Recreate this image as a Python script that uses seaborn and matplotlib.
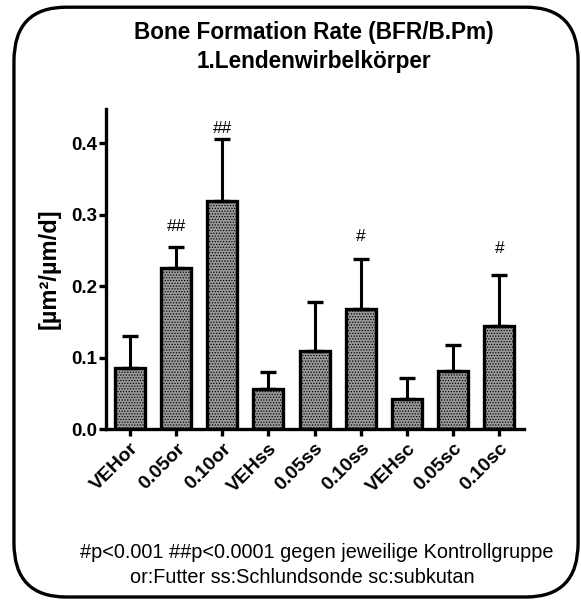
import pandas as pd
import numpy as np
import seaborn as sns
import matplotlib.pyplot as plt
from matplotlib.patches import FancyBboxPatch

groups = ["VEHor", "0.05or", "0.10or", "VEHss", "0.05ss", "0.10ss", "VEHsc", "0.05sc", "0.10sc"]
means = [0.085, 0.226, 0.319, 0.056, 0.109, 0.168, 0.042, 0.081, 0.144]
sd = [0.045, 0.029, 0.087, 0.024, 0.069, 0.070, 0.029, 0.036, 0.072]
marks = ["", "##", "##", "", "", "#", "", "", "#"]
mark_y = [0, 0.284, 0.421, 0, 0, 0.270, 0, 0, 0.253]

df = pd.DataFrame({"group": groups, "value": means})

sns.set_style("ticks", {"text.color": "black", "axes.labelcolor": "black",
                        "axes.edgecolor": "black", "xtick.color": "black",
                        "ytick.color": "black"})
plt.rcParams["font.family"] = ["Liberation Sans", "DejaVu Sans"]
plt.rcParams["hatch.color"] = "#555555"
plt.rcParams["hatch.linewidth"] = 0.6

fig = plt.figure(figsize=(5.81, 6), dpi=100)
ax = fig.add_axes([0.1824, 0.285, 0.7195, 0.5333])

sns.barplot(data=df, x="group", y="value", color="#9a9a9a", saturation=1,
            width=0.65, errorbar=None, ax=ax, edgecolor="black", linewidth=2.4)
for p in ax.patches:
    p.set_hatch("......")

x = np.arange(len(groups))
ax.errorbar(x, means, yerr=[np.zeros(len(sd)), sd], fmt="none", ecolor="black",
            elinewidth=2.2, capsize=6, capthick=2.4, zorder=1)
for i, m in enumerate(marks):
    if m:
        ax.text(i, mark_y[i], m, ha="center", va="center", fontsize=12.5, color="black")

ax.set_xlim(-0.52, 8.535)
ax.set_ylim(0, 0.448)
ax.set_yticks([0.0, 0.1, 0.2, 0.3, 0.4])
ax.set_yticklabels(["0.0", "0.1", "0.2", "0.3", "0.4"], fontweight="bold", fontsize=13.5)
ax.set_xticks(x)
ax.set_xticklabels(groups, rotation=45, ha="right", rotation_mode="anchor",
                   fontweight="bold", fontsize=14)
ax.set_xlabel("")
ax.set_ylabel("[µm²/µm/d]", fontweight="bold", fontsize=17)
ax.yaxis.set_label_coords(-0.108, 0.5)
sns.despine(ax=ax)
for s in ["left", "bottom"]:
    ax.spines[s].set_linewidth(2.4)
ax.tick_params(width=2.4, length=5, colors="black")
ax.tick_params(axis="y", pad=1)
ax.tick_params(axis="x", pad=3)

fig.text(0.54, 0.945, "Bone Formation Rate (BFR/B.Pm)", ha="center", va="center",
         fontsize=16.3, fontweight="bold", color="black")
fig.text(0.54, 0.898, "1.Lendenwirbelkörper", ha="center", va="center",
         fontsize=16.3, fontweight="bold", color="black")
fig.text(0.545, 0.08, "#p<0.001 ##p<0.0001 gegen jeweilige Kontrollgruppe", ha="center",
         va="center", fontsize=14.3, color="black")
fig.text(0.521, 0.038, "or:Futter ss:Schlundsonde sc:subkutan", ha="center",
         va="center", fontsize=14.3, color="black")

box = FancyBboxPatch((0.024, 0.005), 0.971, 0.983, boxstyle="round,pad=0,rounding_size=0.09",
                     transform=fig.transFigure, fill=False, edgecolor="black", linewidth=2.4)
fig.patches.append(box)

fig.savefig("out.png", dpi=100)
